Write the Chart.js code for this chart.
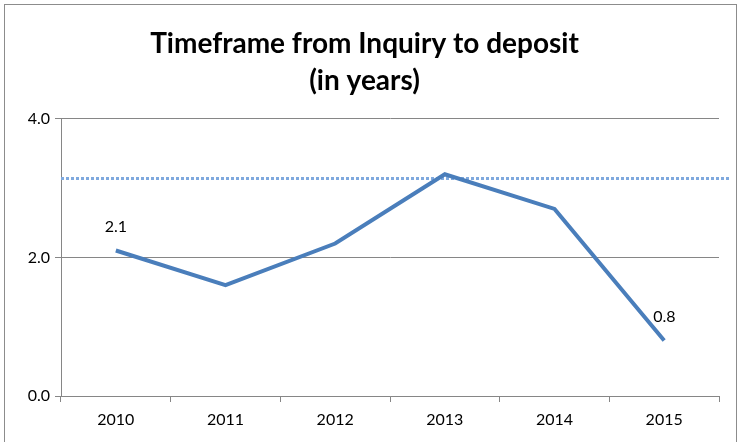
<!DOCTYPE html>
<html>
<head>
<meta charset="utf-8">
<script src="https://cdn.jsdelivr.net/npm/chart.js@4"></script>
<style>
    html, body { margin: 0; padding: 0; background: #fff; }
    #wrap { position: relative; width: 746px; height: 442px; }
    #frame {
        position: absolute; left: 4px; top: 4px; width: 733px; height: 450px;
        border: 1px solid #8c8c8c; box-sizing: border-box;
    }
    canvas { position: absolute; left: 0; top: 0; }
</style>
</head>
<body>
<div id="wrap">
    <div id="frame"></div>
    <canvas id="chart" width="746" height="442"></canvas>
</div>
<script>
// Chart data
const years = ['2010', '2011', '2012', '2013', '2014', '2015'];
const timeframe = [2.1, 1.6, 2.2, 3.2, 2.7, 0.8];
const yTicks = [0, 2, 4];
const referenceLevel = 3.15;
const labelledPoints = [0, 5];

const FONT = "Lato, 'Open Sans', sans-serif";

// Dotted reference line across the plot
const refLinePlugin = {
    id: 'refLine',
    beforeDatasetsDraw(chart) {
        const { ctx, chartArea, scales } = chart;
        const y = Math.round(scales.y.getPixelForValue(referenceLevel)) + 0.5;
        ctx.save();
        ctx.strokeStyle = '#7fa9de';
        ctx.lineWidth = 3;
        ctx.setLineDash([3, 2]);
        ctx.beginPath();
        ctx.moveTo(chartArea.left, y);
        ctx.lineTo(chartArea.right + 10, y);
        ctx.stroke();
        ctx.restore();
    }
};

// Value labels on first and last points
const valueLabelPlugin = {
    id: 'valueLabels',
    afterDatasetsDraw(chart) {
        const { ctx } = chart;
        const meta = chart.getDatasetMeta(0);
        ctx.save();
        ctx.font = '16px ' + FONT;
        ctx.fillStyle = '#000';
        ctx.textBaseline = 'middle';
        labelledPoints.forEach(i => {
            const pt = meta.data[i];
            const text = timeframe[i].toFixed(1);
            if (i === 0) {
                ctx.textAlign = 'center';
                ctx.fillText(text, pt.x, pt.y - 24);
            } else {
                ctx.textAlign = 'left';
                ctx.fillText(text, pt.x - 11, pt.y - 24);
            }
        });
        ctx.restore();
    }
};

const ctx = document.getElementById('chart').getContext('2d');
new Chart(ctx, {
    type: 'line',
    data: {
        labels: years,
        datasets: [{
            data: timeframe,
            borderColor: '#4a7ebb',
            borderWidth: 4,
            pointRadius: 0,
            tension: 0,
            fill: false
        }]
    },
    options: {
        responsive: false,
        animation: false,
        layout: { padding: { left: 10, right: 27, top: 0, bottom: 0 } },
        plugins: {
            legend: { display: false },
            tooltip: { enabled: false },
            title: {
                display: true,
                text: ['Timeframe from Inquiry to deposit', '(in years)'],
                color: '#000',
                font: { family: FONT, size: 28, weight: 'bold', lineHeight: 1.3 },
                padding: { top: 26, bottom: 20 }
            }
        },
        scales: {
            x: {
                offset: true,
                grid: {
                    offset: true,
                    drawOnChartArea: false,
                    drawTicks: true,
                    tickLength: 6,
                    color: '#868686'
                },
                border: { color: '#868686', width: 1 },
                ticks: {
                    color: '#000',
                    font: { family: FONT, size: 16 },
                    padding: 8,
                    maxRotation: 0
                },
                afterFit(scale) { scale.height = 46; }
            },
            y: {
                min: 0,
                max: 4,
                afterBuildTicks(scale) {
                    scale.ticks = yTicks.map(v => ({ value: v }));
                },
                grid: {
                    color: '#868686',
                    drawTicks: true,
                    tickLength: 6
                },
                border: { color: '#868686', width: 1 },
                ticks: {
                    color: '#000',
                    font: { family: FONT, size: 16 },
                    padding: 5,
                    callback: v => v.toFixed(1)
                },
                afterFit(scale) { scale.width = 51; }
            }
        }
    },
    plugins: [refLinePlugin, valueLabelPlugin]
});
</script>
</body>
</html>
